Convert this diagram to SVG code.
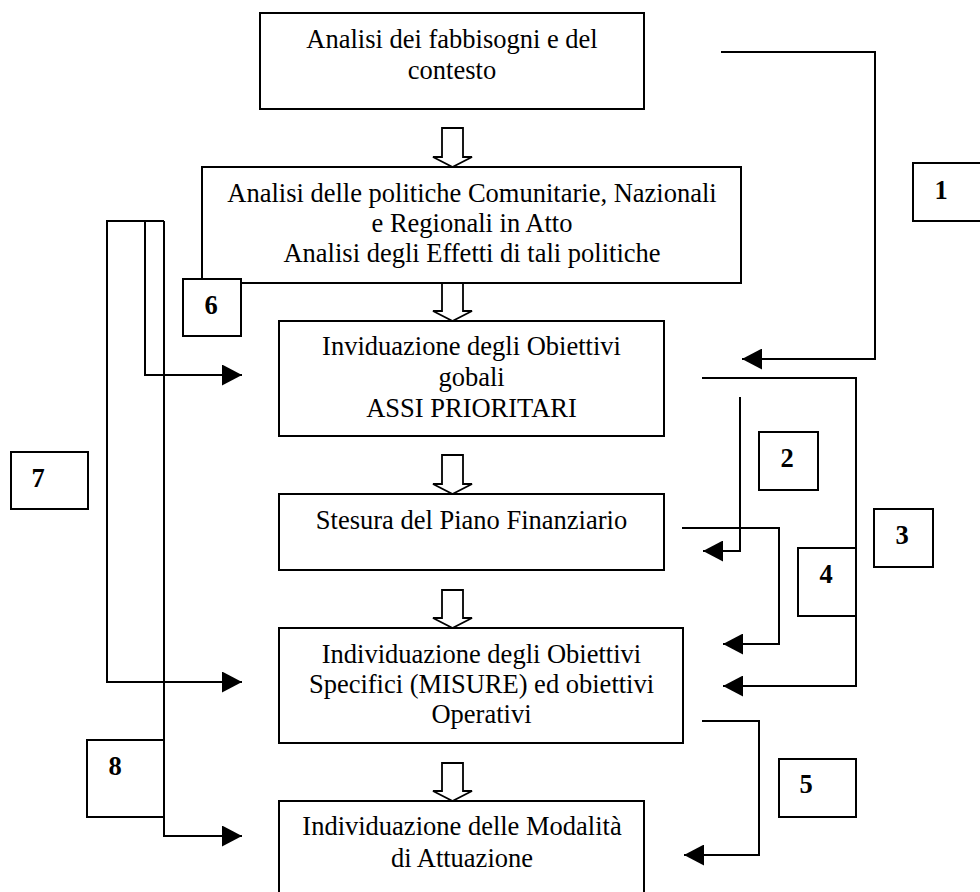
<svg xmlns="http://www.w3.org/2000/svg" width="980" height="892" viewBox="0 0 980 892">
<style>
.box{fill:#fff;stroke:#000;stroke-width:2}
.t{font-family:"Liberation Serif","Times New Roman",serif;font-size:26.5px;fill:#000;text-anchor:middle}
.n{font-family:"Liberation Serif","Times New Roman",serif;font-size:26.5px;font-weight:bold;fill:#000;text-anchor:middle}
.c{fill:none;stroke:#000;stroke-width:2}
.ha{fill:#fff;stroke:#000;stroke-width:1.8;stroke-linejoin:miter}
</style>
<defs>
<marker id="ah" markerUnits="userSpaceOnUse" markerWidth="20" markerHeight="21" refX="20" refY="10.5" orient="auto" viewBox="0 0 20 21">
<path d="M0,0 L20,10.5 L0,21 Z" fill="#000"/>
</marker>
</defs>
<rect width="980" height="892" fill="#fff"/>

<g id="connectors">
<polyline class="c" points="721,52 875,52 875,359 742,359" marker-end="url(#ah)"/>
<polyline class="c" points="702,378 856,378 856,686 723,686" marker-end="url(#ah)"/>
<polyline class="c" points="740,397 740,551 703,551" marker-end="url(#ah)"/>
<polyline class="c" points="682,528 779,528 779,644 723,644" marker-end="url(#ah)"/>
<polyline class="c" points="702,721 759,721 759,855 684,855" marker-end="url(#ah)"/>
<polyline class="c" points="164,221 107,221 107,682 242,682" marker-end="url(#ah)"/>
<polyline class="c" points="145,221 145,375 242,375" marker-end="url(#ah)"/>
<polyline class="c" points="164,221 164,836 242,836" marker-end="url(#ah)"/>
<path class="ha" d="M442,128 H463 V157 H472 L452.5,167 L433,157 H442 Z"/>
<path class="ha" d="M442,283 H463 V311 H472 L452.5,321 L433,311 H442 Z"/>
<path class="ha" d="M442,455 H463 V484 H472 L452.5,494 L433,484 H442 Z"/>
<path class="ha" d="M442,590 H463 V618 H472 L452.5,628 L433,618 H442 Z"/>
<path class="ha" d="M442,763 H463 V791 H472 L452.5,801 L433,791 H442 Z"/>
</g>

<g id="nodeA">
<rect class="box" x="260" y="13" width="384" height="96"/>
<text class="t" x="452" y="48">Analisi dei fabbisogni e del</text>
<text class="t" x="452" y="79">contesto</text>
</g>
<g id="nodeB">
<rect class="box" x="202" y="167" width="539" height="116"/>
<text class="t" x="472" y="201.5">Analisi delle politiche Comunitarie, Nazionali</text>
<text class="t" x="472" y="231.5">e Regionali in Atto</text>
<text class="t" x="472" y="262">Analisi degli Effetti di tali politiche</text>
</g>
<g id="nodeC">
<rect class="box" x="279" y="321" width="385" height="115"/>
<text class="t" x="471.5" y="355">Inviduazione degli Obiettivi</text>
<text class="t" x="471.5" y="385.5">gobali</text>
<text class="t" x="471.5" y="416.5">ASSI PRIORITARI</text>
</g>
<g id="nodeD">
<rect class="box" x="279" y="494" width="385" height="76"/>
<text class="t" x="471.5" y="529">Stesura del Piano Finanziario</text>
</g>
<g id="nodeE">
<rect class="box" x="279" y="628" width="404" height="115"/>
<text class="t" x="481.5" y="663">Individuazione degli Obiettivi</text>
<text class="t" x="481.5" y="692.5">Specifici (MISURE) ed obiettivi</text>
<text class="t" x="481.5" y="723">Operativi</text>
</g>
<g id="nodeF">
<rect class="box" x="279" y="801" width="365" height="110"/>
<text class="t" x="462" y="835">Individuazione delle Modalità</text>
<text class="t" x="462" y="867">di Attuazione</text>
</g>

<g id="label1"><rect class="box" x="913" y="163" width="80" height="58"/><text class="n" x="941" y="199">1</text></g>
<g id="label2"><rect class="box" x="759" y="432" width="59" height="58"/><text class="n" x="787" y="467">2</text></g>
<g id="label3"><rect class="box" x="874" y="509" width="59" height="58"/><text class="n" x="902" y="544">3</text></g>
<g id="label4"><rect class="box" x="798" y="548" width="58" height="68"/><text class="n" x="826" y="583">4</text></g>
<g id="label5"><rect class="box" x="779" y="759" width="77" height="58"/><text class="n" x="806" y="793">5</text></g>
<g id="label6"><rect class="box" x="183" y="279" width="58" height="57"/><text class="n" x="211" y="314">6</text></g>
<g id="label7"><rect class="box" x="11" y="452" width="77" height="57"/><text class="n" x="38" y="487">7</text></g>
<g id="label8"><rect class="box" x="87" y="740" width="77" height="77"/><text class="n" x="115" y="775">8</text></g>
</svg>
